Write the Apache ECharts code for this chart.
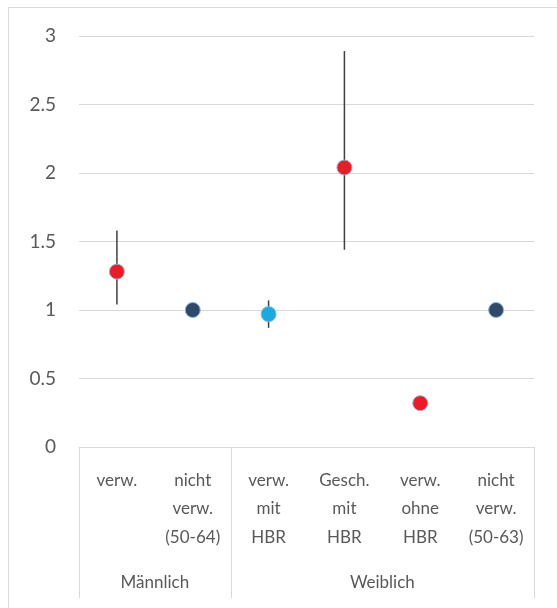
<!DOCTYPE html>
<html>
<head>
<meta charset="utf-8">
<script src="https://cdn.jsdelivr.net/npm/echarts@6/dist/echarts.min.js"></script>
<style>
html,body{margin:0;padding:0;background:#fff;}
#chart{width:557px;height:608px;}
</style>
</head>
<body>
<div id="chart"></div>
<script>
const categories = ['verw.', 'nicht\nverw.\n(50-64)', 'verw.\nmit\nHBR', 'Gesch.\nmit\nHBR', 'verw.\nohne\nHBR', 'nicht\nverw.\n(50-63)'];
const values = [1.28, 1.0, 0.97, 2.04, 0.32, 1.0];
const errLow = [1.04, null, 0.87, 1.44, null, null];
const errHigh = [1.58, null, 1.07, 2.89, null, null];
const pointColors = ['#ED1C24', '#2E4A6A', '#1AAAE2', '#ED1C24', '#ED1C24', '#2E4A6A'];
const groupNames = ['Männlich', 'Weiblich'];
const groupStart = [0, 2];
const groupEnd = [1, 5];
const yMin = 0, yMax = 3, yStep = 0.5;

const FONT = 'Lato, "Liberation Sans", sans-serif';
const TXT = '#595959';
const LINE = '#D9D9D9';

const chart = echarts.init(document.getElementById('chart'), null, {renderer: 'canvas'});

const option = {
  animation: false,
  backgroundColor: '#fff',
  grid: {left: 79, right: 23, top: 36, bottom: 161, containLabel: false},
  xAxis: {
    type: 'category',
    data: categories,
    boundaryGap: true,
    axisLine: {show: true, lineStyle: {color: LINE, width: 1}},
    axisTick: {show: false},
    axisLabel: {
      interval: 0, color: TXT, fontFamily: FONT, fontSize: 17,
      lineHeight: 28.5, margin: 19, align: 'center'
    },
    splitLine: {show: false}
  },
  yAxis: {
    type: 'value', min: yMin, max: yMax, interval: yStep,
    axisLine: {show: false}, axisTick: {show: false},
    axisLabel: {color: TXT, fontFamily: FONT, fontSize: 19, margin: 23,
      formatter: v => String(v)},
    splitLine: {lineStyle: {color: LINE, width: 1}}
  },
  series: [
    {
      type: 'custom',
      z: 2,
      data: categories.map((c, i) => [i, errLow[i], errHigh[i]]).filter(d => d[1] != null),
      renderItem: function (params, api) {
        const p1 = api.coord([api.value(0), api.value(1)]);
        const p2 = api.coord([api.value(0), api.value(2)]);
        return {
          type: 'line',
          shape: {x1: p1[0], y1: p1[1], x2: p2[0], y2: p2[1]},
          style: {stroke: '#404040', lineWidth: 1.5}
        };
      }
    },
    {
      type: 'scatter',
      z: 3,
      symbol: 'circle',
      symbolSize: 15,
      data: values.map((v, i) => ({
        value: [i, v],
        itemStyle: {color: pointColors[i], opacity: 1, borderColor: '#8FB4DE', borderWidth: 1}
      }))
    }
  ]
};
chart.setOption(option);

function drawBoxes() {
  const y0 = chart.convertToPixel({yAxisIndex: 0}, yMin);
  const c0 = chart.convertToPixel({xAxisIndex: 0}, 0);
  const c1 = chart.convertToPixel({xAxisIndex: 0}, 1);
  const bw = c1 - c0;
  const boundary = i => chart.convertToPixel({xAxisIndex: 0}, i) - bw / 2;
  const bottom = y0 + 151;
  const els = [];
  els.push({type: 'rect', shape: {x: 8.5, y: 7.5, width: 700, height: 700},
    style: {fill: 'none', stroke: LINE, lineWidth: 1}, silent: true, z: -1});
  const bounds = [0];
  groupEnd.forEach(e => bounds.push(e + 1));
  bounds.forEach(b => {
    const x = Math.round(boundary(b)) + 0.5;
    els.push({type: 'line', shape: {x1: x, y1: y0, x2: x, y2: bottom},
      style: {stroke: LINE, lineWidth: 1}, silent: true});
  });
  groupNames.forEach((g, k) => {
    const xs = boundary(groupStart[k]);
    const xe = boundary(groupEnd[k] + 1);
    els.push({type: 'text', x: (xs + xe) / 2, y: y0 + 136,
      style: {text: g, fill: TXT, font: '17px ' + FONT, align: 'center', verticalAlign: 'middle'},
      silent: true});
  });
  chart.setOption({graphic: {elements: els}});
}
drawBoxes();
</script>
</body>
</html>
